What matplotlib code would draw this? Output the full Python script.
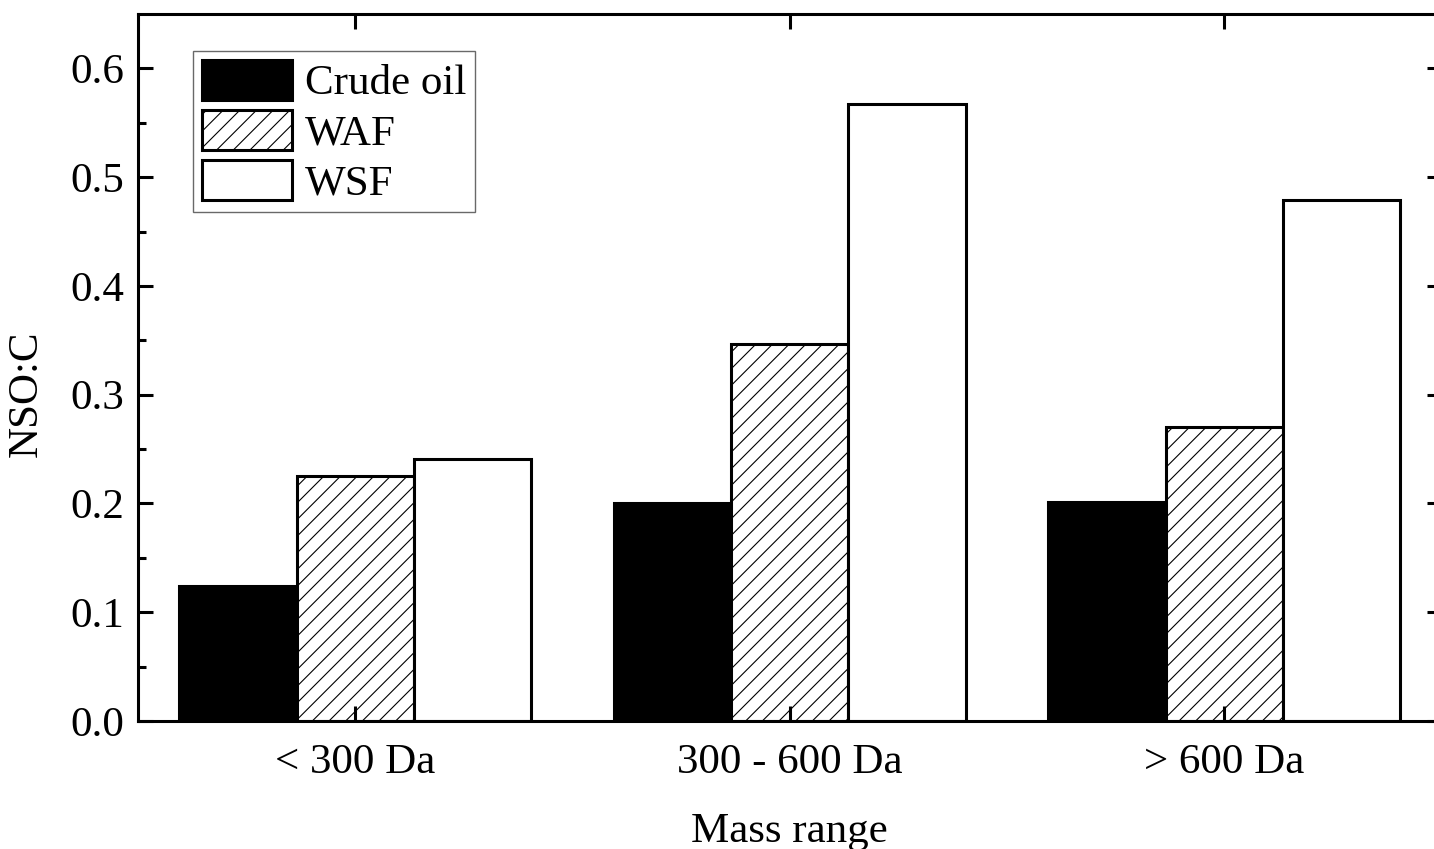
import numpy as np
import matplotlib
matplotlib.use("Agg")
import matplotlib.pyplot as plt

plt.rcParams['font.family'] = ['Liberation Serif', 'DejaVu Serif']
plt.rcParams['hatch.linewidth'] = 0.8

# data
groups = ['< 300 Da', '300 - 600 Da', '> 600 Da']
crude_oil = [0.124, 0.200, 0.201]
waf = [0.225, 0.347, 0.270]
wsf = [0.241, 0.567, 0.479]

fs = 31
fig = plt.figure(figsize=(14.34, 8.49), dpi=100)
# axes run past the right edge like in the reference crop
ax = fig.add_axes([138/1434, 128/849, 1303.5/1434, 707/849])

x = np.arange(len(groups))
w = 0.27
ax.bar(x - w, crude_oil, w, color='black', edgecolor='black', linewidth=2.2, label='Crude oil')
ax.bar(x, waf, w, color='white', edgecolor='black', linewidth=2.2, hatch='//', label='WAF')
ax.bar(x + w, wsf, w, color='white', edgecolor='black', linewidth=2.2, label='WSF')

ax.set_xlim(-0.5, 2.5)
ax.set_ylim(0, 0.65)
ax.set_xticks(x)
ax.set_xticklabels(groups)
ax.set_yticks(np.arange(0, 0.61, 0.1))
ax.set_yticklabels(['%.1f' % v for v in np.arange(0, 0.61, 0.1)])
ax.set_yticks(np.arange(0.05, 0.65, 0.1), minor=True)

ax.tick_params(axis='both', which='major', direction='in', length=11, width=2.2,
               labelsize=fs, top=True, right=True, pad=10)
ax.tick_params(axis='x', which='major', pad=16)
ax.tick_params(axis='y', which='minor', direction='in', length=5.5, width=2.2, right=True)
ax.tick_params(axis='x', which='minor', bottom=False, top=False)
for s in ax.spines.values():
    s.set_linewidth(2.2)

ax.set_xlabel('Mass range', fontsize=fs, labelpad=22)
ax.set_ylabel('NSO:C', fontsize=fs)
ax.yaxis.label.set_verticalalignment('center')
ax.yaxis.label.set_horizontalalignment('center')
ax.yaxis.set_label_coords((27 - 138) / 1303.5, (721 - 394) / 707)

leg = ax.legend(loc='upper left', bbox_to_anchor=(0.0422, 0.9477), borderaxespad=0,
                fontsize=fs, handlelength=2.1, handleheight=1.05, labelspacing=0.15,
                handletextpad=0.3, borderpad=0.2, fancybox=False, frameon=True)
leg.get_frame().set_edgecolor('#444444')
leg.get_frame().set_linewidth(1.0)

fig.savefig('out.png', dpi=100)
